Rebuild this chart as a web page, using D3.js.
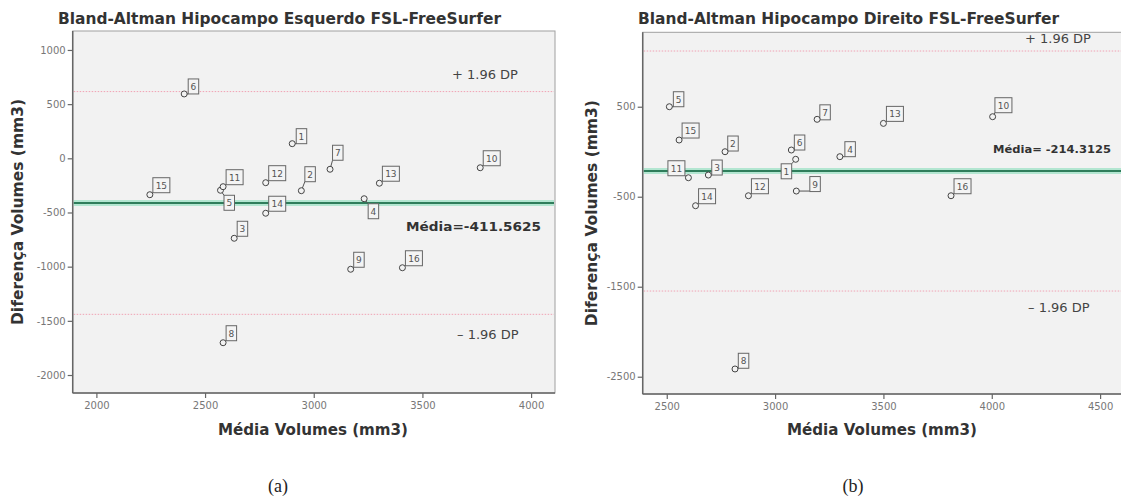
<!DOCTYPE html>
<html>
<head>
<meta charset="utf-8">
<script src="https://cdn.jsdelivr.net/npm/d3@7/dist/d3.min.js"></script>
<style>
  body { margin: 0; background: #fff; }
  svg { display: block; font-family: "DejaVu Sans", sans-serif; }
</style>
</head>
<body>
<svg id="chart" width="1121" height="503"></svg>
<script>
// ---- data: left (Esquerdo) ----
const leftIds   = [1, 2, 3, 4, 5, 6, 7, 8, 9, 10, 11, 12, 13, 14, 15, 16];
const leftMeanVol = [2901, 2943, 2634, 3232, 2571, 2404, 3075, 2583, 3170, 3766, 2583, 2779, 3302, 2779, 2246, 3408];
const leftDiffVol = [135, -299, -738, -373, -295, 594, -101, -1702, -1024, -87, -262, -225, -230, -507, -336, -1010];
const leftXTicks = [2000, 2500, 3000, 3500, 4000];
const leftYTicks = [1000, 500, 0, -500, -1000, -1500, -2000];
const leftAvg = -411.5625;
const leftLimits = [616, -1440];

// ---- data: right (Direito) ----
const rightIds  = [1, 2, 3, 4, 5, 6, 7, 8, 9, 10, 11, 12, 13, 14, 15, 16];
const rightMeanVol = [3095, 2769, 2692, 3299, 2512, 3075, 3194, 2815, 3098, 4004, 2600, 2877, 3500, 2633, 2557, 3812];
const rightDiffVol = [-84, 0, -259, -55, 500, 19, 360, -2414, -437, 389, -289, -489, 315, -600, 130, -489];
const rightXTicks = [2500, 3000, 3500, 4000, 4500];
const rightYTicks = [500, -500, -1500, -2500];
const rightAvg = -214.3125;
const rightLimits = [1119, -1548];

const svg = d3.select('#chart');

function drawPanel(cfg) {
  const x = d3.scaleLinear().domain(cfg.xDomain).range([cfg.left, cfg.right]);
  const y = d3.scaleLinear().domain(cfg.yDomain).range([cfg.bottom, cfg.top]);
  const g = svg.append('g');

  // plot background + frame
  g.append('rect')
    .attr('x', cfg.left).attr('y', cfg.top)
    .attr('width', cfg.right - cfg.left).attr('height', cfg.bottom - cfg.top)
    .attr('fill', '#f2f2f2').attr('stroke', '#a0a0a0').attr('stroke-width', 1);

  // title
  g.append('text')
    .attr('x', cfg.titleX).attr('y', 24)
    .attr('font-size', 16).attr('font-weight', 'bold').attr('fill', '#333')
    .attr('textLength', cfg.titleLen).attr('lengthAdjust', 'spacingAndGlyphs')
    .text(cfg.title);

  // limit lines (dotted pink)
  cfg.limits.forEach(v => {
    g.append('line')
      .attr('x1', cfg.left + 1).attr('x2', cfg.right - 1)
      .attr('y1', y(v)).attr('y2', y(v))
      .attr('stroke', '#f0a3b4').attr('stroke-width', 1)
      .attr('stroke-dasharray', '1.5,1.5');
  });

  // mean line
  g.append('line')
    .attr('x1', cfg.left + 1).attr('x2', cfg.right - 1)
    .attr('y1', y(cfg.avg)).attr('y2', y(cfg.avg))
    .attr('stroke', '#b3e6d1').attr('stroke-width', 6);
  g.append('line')
    .attr('x1', cfg.left + 1).attr('x2', cfg.right - 1)
    .attr('y1', y(cfg.avg)).attr('y2', y(cfg.avg))
    .attr('stroke', '#2f7d5b').attr('stroke-width', 2);

  // annotations
  g.append('text').attr('x', cfg.upTxt[0]).attr('y', cfg.upTxt[1])
    .attr('font-size', 13).attr('fill', '#444').text('+ 1.96 DP');
  g.append('text').attr('x', cfg.lowTxt[0]).attr('y', cfg.lowTxt[1])
    .attr('font-size', 13).attr('fill', '#444').text('\u2013 1.96 DP');
  g.append('text').attr('x', cfg.avgTxt[0]).attr('y', cfg.avgTxt[1])
    .attr('font-size', cfg.avgSize).attr('font-weight', 'bold').attr('fill', '#333')
    .attr('textLength', cfg.avgLen).attr('lengthAdjust', 'spacingAndGlyphs')
    .text(cfg.avgLabel);

  // axes
  const xAxis = g.append('g')
    .attr('transform', `translate(0,${cfg.bottom})`)
    .call(d3.axisBottom(x).tickValues(cfg.xTicks).tickSize(5).tickPadding(4).tickFormat(d3.format('d')));
  const yAxis = g.append('g')
    .attr('transform', `translate(${cfg.left},0)`)
    .call(d3.axisLeft(y).tickValues(cfg.yTicks).tickSize(5).tickPadding(2).tickFormat(d => String(d)));
  [xAxis, yAxis].forEach(a => {
    a.select('.domain').attr('stroke', '#666').attr('stroke-width', 1.5);
    a.selectAll('.tick line').attr('stroke', '#666').attr('stroke-width', 1.2);
    a.selectAll('.tick text').attr('fill', '#777').attr('font-size', 10)
      .attr('font-family', '"DejaVu Sans", sans-serif');
  });
  xAxis.select('.domain').attr('d', `M${cfg.left},0H${cfg.right}`);
  yAxis.select('.domain').attr('d', `M0,${cfg.top}V${cfg.bottom}`);

  // axis titles
  g.append('text')
    .attr('x', cfg.xTitleX).attr('y', 435).attr('text-anchor', 'middle')
    .attr('font-size', 15).attr('font-weight', 'bold').attr('fill', '#333')
    .attr('textLength', 190).attr('lengthAdjust', 'spacingAndGlyphs')
    .text('Média Volumes (mm3)');
  g.append('text')
    .attr('transform', `translate(${cfg.yTitleX},${(cfg.top + cfg.bottom) / 2}) rotate(-90)`)
    .attr('text-anchor', 'middle')
    .attr('font-size', 15).attr('font-weight', 'bold').attr('fill', '#333')
    .attr('textLength', 226).attr('lengthAdjust', 'spacingAndGlyphs')
    .text('Diferença Volumes (mm3)');

  // points with numbered label boxes
  const pts = cfg.ids.map((id, i) => ({ id, cx: x(cfg.xs[i]), cy: y(cfg.ys[i]) }));
  const pg = g.append('g');
  pts.forEach(p => {
    const off = cfg.labelOff[p.id] || [3, -17];
    const w = String(p.id).length > 1 ? 17 : 10.5, h = 15;
    const bx = p.cx + off[0], by = p.cy + off[1];
    // nearest point of box to the circle
    const nx = Math.max(bx, Math.min(p.cx, bx + w));
    const ny = Math.max(by, Math.min(p.cy, by + h));
    pg.append('line')
      .attr('x1', p.cx).attr('y1', p.cy).attr('x2', nx).attr('y2', ny)
      .attr('stroke', '#555').attr('stroke-width', 1);
    pg.append('rect')
      .attr('x', bx).attr('y', by).attr('width', w).attr('height', h)
      .attr('fill', '#f4f4f4').attr('stroke', '#666').attr('stroke-width', 1);
    pg.append('text')
      .attr('x', bx + w / 2).attr('y', by + 11).attr('text-anchor', 'middle')
      .attr('font-size', 9).attr('fill', '#555').text(p.id);
    pg.append('circle')
      .attr('cx', p.cx).attr('cy', p.cy).attr('r', 3)
      .attr('fill', '#f2f2f2').attr('stroke', '#444').attr('stroke-width', 1);
  });

  // sub caption
  svg.append('text')
    .attr('x', cfg.capX).attr('y', 492).attr('text-anchor', 'middle')
    .attr('font-family', '"Liberation Serif", "DejaVu Serif", serif')
    .attr('font-size', 18).attr('fill', '#222')
    .text(cfg.caption);
}

drawPanel({
  title: 'Bland-Altman Hipocampo Esquerdo FSL-FreeSurfer',
  titleX: 58, titleLen: 443,
  left: 72.7, right: 555, top: 31, bottom: 393,
  xDomain: [1891, 4110], yDomain: [-2166, 1175],
  xTicks: leftXTicks, yTicks: leftYTicks,
  ids: leftIds, xs: leftMeanVol, ys: leftDiffVol,
  avg: leftAvg, limits: leftLimits,
  avgLabel: 'Média=-411.5625', avgLen: 135, avgSize: 13,
  upTxt: [452, 79], lowTxt: [457, 339], avgTxt: [406, 231],
  xTitleX: 313, yTitleX: 23, capX: 278, caption: '(a)',
  labelOff: { 2: [3.5, -24], 7: [2.5, -24], 5: [3.5, 5], 4: [4, 5], 1: [4, -15], 6: [4, -15] }
});

drawPanel({
  title: 'Bland-Altman Hipocampo Direito FSL-FreeSurfer',
  titleX: 638, titleLen: 421,
  left: 642.7, right: 1130, top: 32.3, bottom: 394,
  xDomain: [2389, 4638], yDomain: [-2692, 1327],
  xTicks: rightXTicks, yTicks: rightYTicks,
  ids: rightIds, xs: rightMeanVol, ys: rightDiffVol,
  avg: rightAvg, limits: rightLimits,
  avgLabel: 'Média= -214.3125', avgLen: 118, avgSize: 11,
  upTxt: [1025, 43], lowTxt: [1028, 312], avgTxt: [993, 153],
  xTitleX: 882, yTitleX: 597, capX: 853, caption: '(b)',
  labelOff: { 11: [-20.5, -17], 1: [-14.5, 4.5], 9: [13.5, -14.5], 5: [4, -15], 3: [3.4, -15],
              6: [3, -15], 7: [2.7, -14.5], 4: [5, -15], 2: [2.7, -15.7], 8: [3.3, -15.7], 10: [2.3, -19] }
});
</script>
</body>
</html>
